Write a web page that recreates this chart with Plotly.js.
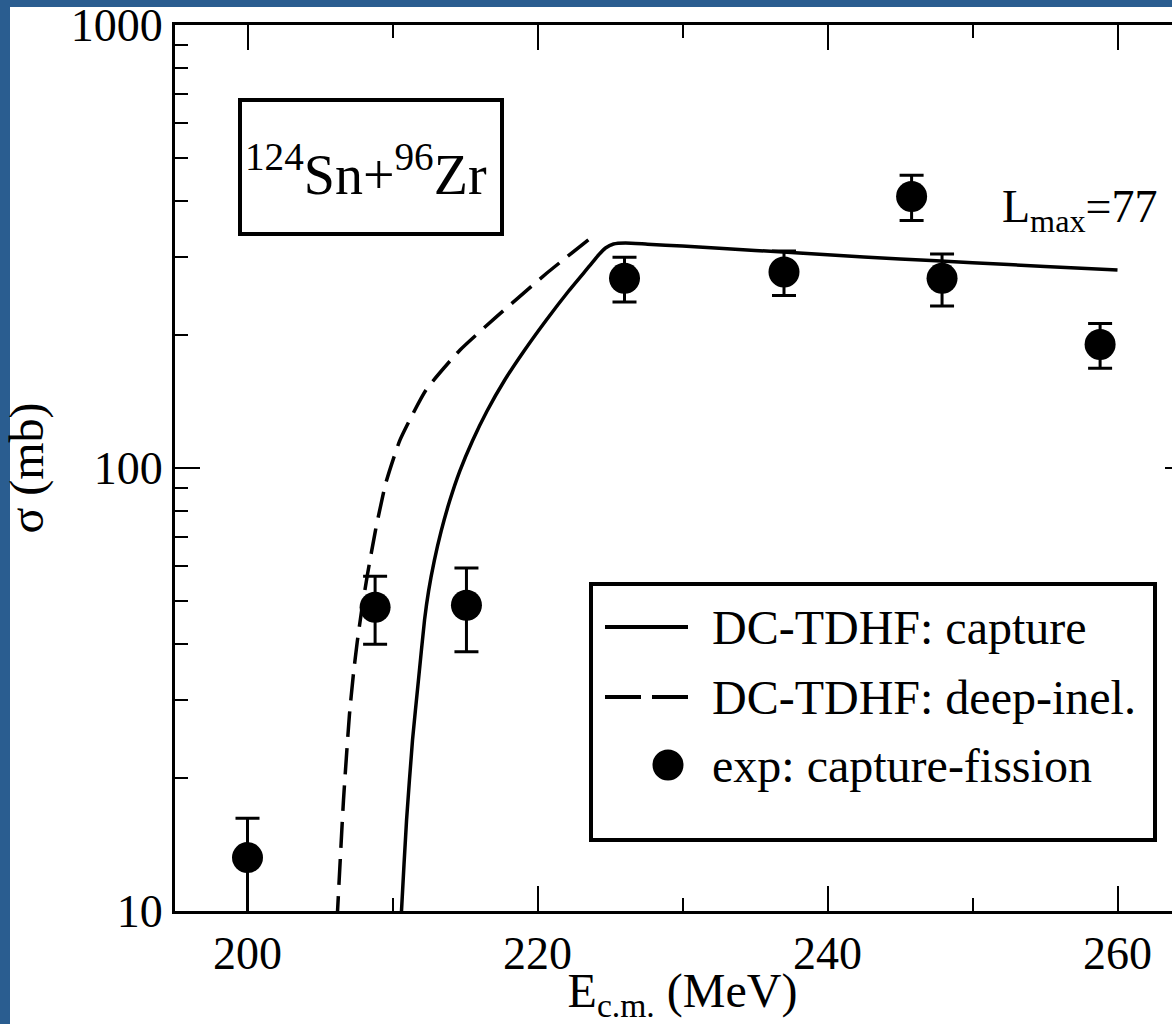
<!DOCTYPE html>
<html>
<head>
<meta charset="utf-8">
<script src="https://cdn.plot.ly/plotly-3.0.1.min.js"></script>
<style>
  html, body { margin: 0; padding: 0; width: 1172px; height: 1024px; overflow: hidden; background: #2a5d90; }
  #sheet { position: absolute; left: 10px; top: 7px; right: 0; bottom: 0; background: #ffffff; }
  #chart { position: absolute; left: 0; top: 0; width: 1240px; height: 1024px; }
</style>
</head>
<body>
<div id="sheet"></div>
<div id="chart"></div>
<script>
// DC-TDHF capture cross section (solid curve)
const captureE     = [210.59, 210.62, 210.97, 211.38, 211.79, 212.21, 212.49, 212.88, 213.36, 213.94, 214.64, 215.51, 216.52, 217.70, 219.07, 220.56, 222.15, 223.59, 224.21, 224.69, 225.24, 226.07, 227.59, 230.0, 235.0, 240.0, 245.0, 250.0, 255.0, 260.0];
const captureSigma = [9.45,   10.0,   16.05,  24.3,   33.2,   45.4,   52.8,   61.7,   72.1,   84.2,   98.4,   115.1,  134.5,  157.2,  183.7,  214.7,  250.9,  285.8,  302.6,  313.8,  320.4,  322.1,  320.0,  316.9, 309.9, 302.9, 296.4, 290.7, 285.0, 280.0];

// DC-TDHF deep-inelastic cross section (dashed curve)
const deepInelE     = [206.17, 206.21, 206.62, 207.03, 207.31, 207.56, 207.85, 208.27, 208.83, 209.54, 210.52, 212.31, 214.66, 217.16, 220.65, 223.75];
const deepInelSigma = [9.45,   10.0,   17.8,   27.7,   34.4,   40.3,   47.1,   57.4,   72.4,   92.5,   115.7,  150.0,  184.7,  219.3,  275.5,  332.0];

// Measured capture-fission cross sections
const expE        = [200.0, 208.8, 215.1, 226.0, 237.0, 245.8, 247.9, 258.8];
const expSigma    = [13.2,  48.5,  49.0,  268,   277,   410,   268,   190];
const expErrPlus  = [3.0,   8.5,   10.5,  31,    32,    48,    36,    22];
const expErrMinus = [3.5,   8.5,   10.5,  31,    32,    48,    36,    22];

// Axis ticks
const xMajorTicks = [200, 220, 240, 260];
const xMinorStep  = 10;
const yMajorTicks = [10, 100, 1000];
const yTickLabels = ['10', '100', '1000'];
const yMinorTicks = [20, 30, 40, 50, 60, 70, 80, 90, 200, 300, 400, 500, 600, 700, 800, 900];

// Legend entries
const legendLabels = ['DC-TDHF: capture', 'DC-TDHF: deep-inel.', 'exp: capture-fission'];

const FONT = '"Liberation Serif", "Times New Roman", serif';
const INK = '#000000';

// plot area in page pixels
const L = 175, R = 1190, T = 25, B = 911;
const px = v => (v - L) / (R - L);
const py = v => (B - v) / (B - T);

const traces = [
  {
    x: captureE, y: captureSigma, type: 'scatter', mode: 'lines',
    name: legendLabels[0], showlegend: false,
    line: { color: INK, width: 3.5, shape: 'spline', smoothing: 0.5 }
  },
  {
    x: deepInelE, y: deepInelSigma, type: 'scatter', mode: 'lines',
    name: legendLabels[1], showlegend: false,
    line: { color: INK, width: 3.5, dash: '26px,11px', shape: 'spline', smoothing: 0.5 }
  },
  {
    x: expE, y: expSigma, type: 'scatter', mode: 'markers',
    name: legendLabels[2], showlegend: false,
    marker: { color: INK, size: 31 },
    error_y: { type: 'data', symmetric: false, array: expErrPlus, arrayminus: expErrMinus,
               color: INK, thickness: 3, width: 12 }
  }
];

const tickFont = { family: FONT, size: 46, color: INK };
const titleFont = { family: FONT, size: 48, color: INK };

const legendRows = [627, 697, 765];

const layout = {
  width: 1240, height: 1024, autosize: false,
  font: { family: FONT, color: INK },
  margin: { l: L, r: 1240 - R, t: T, b: 1024 - B, pad: 0 },
  paper_bgcolor: 'rgba(0,0,0,0)',
  plot_bgcolor: '#ffffff',
  showlegend: false,
  xaxis: {
    range: [195, 265],
    tickmode: 'array', tickvals: xMajorTicks,
    ticks: 'inside', ticklen: 25, tickwidth: 2, tickcolor: INK,
    minor: { dtick: xMinorStep, tick0: 200, ticks: 'inside', ticklen: 13, tickwidth: 2, tickcolor: INK, showgrid: false },
    showline: true, linecolor: INK, linewidth: 3, mirror: 'allticks',
    showgrid: false, zeroline: false,
    tickfont: tickFont,
    title: { text: 'E<sub>c.m.</sub> (MeV)', font: titleFont, standoff: 4 }
  },
  yaxis: {
    type: 'log', range: [1, 3],
    tickmode: 'array', tickvals: yMajorTicks, ticktext: yTickLabels,
    ticks: 'inside', ticklen: 25, tickwidth: 2, tickcolor: INK,
    minor: { tickmode: 'array', tickvals: yMinorTicks, ticks: 'inside', ticklen: 13, tickwidth: 2, tickcolor: INK, showgrid: false },
    showline: true, linecolor: INK, linewidth: 3, mirror: 'allticks',
    showgrid: false, zeroline: false,
    tickfont: tickFont,
    title: { text: 'σ (mb)', font: titleFont, standoff: 14 }
  },
  shapes: [
    // reaction label frame
    { type: 'rect', xref: 'paper', yref: 'paper', x0: px(240), x1: px(502), y0: py(234), y1: py(100),
      line: { color: INK, width: 4 }, fillcolor: 'rgba(0,0,0,0)', layer: 'above' },
    // legend frame
    { type: 'rect', xref: 'paper', yref: 'paper', x0: px(591), x1: px(1155), y0: py(840), y1: py(584),
      line: { color: INK, width: 4 }, fillcolor: '#ffffff', layer: 'above' },
    // legend sample: solid
    { type: 'line', xref: 'paper', yref: 'paper', x0: px(605), x1: px(688), y0: py(legendRows[0]), y1: py(legendRows[0]),
      line: { color: INK, width: 4 }, layer: 'above' },
    // legend sample: dashed
    { type: 'line', xref: 'paper', yref: 'paper', x0: px(605), x1: px(688), y0: py(legendRows[1]), y1: py(legendRows[1]),
      line: { color: INK, width: 4, dash: '36px,11px' }, layer: 'above' },
    // legend sample: marker
    { type: 'circle', xref: 'paper', yref: 'paper', x0: px(652.5), x1: px(683.5), y0: py(780.5), y1: py(749.5),
      line: { color: INK, width: 0 }, fillcolor: INK, layer: 'above' }
  ],
  annotations: [
    { xref: 'paper', yref: 'paper', x: px(366), y: py(170), xanchor: 'center', yanchor: 'middle',
      text: '<sup>124</sup>Sn+<sup>96</sup>Zr', showarrow: false, font: { family: FONT, size: 56, color: INK } },
    { xref: 'paper', yref: 'paper', x: px(1000), y: py(210), xanchor: 'left', yanchor: 'middle',
      text: 'L<sub>max</sub>=77', showarrow: false, font: { family: FONT, size: 46, color: INK } },
    ...legendLabels.map((t, i) => ({
      xref: 'paper', yref: 'paper', x: px(710), y: py(legendRows[i]), xanchor: 'left', yanchor: 'middle',
      text: t, showarrow: false, font: { family: FONT, size: 48, color: INK }
    }))
  ]
};

Plotly.newPlot('chart', traces, layout, { staticPlot: true, displayModeBar: false });
</script>
</body>
</html>
